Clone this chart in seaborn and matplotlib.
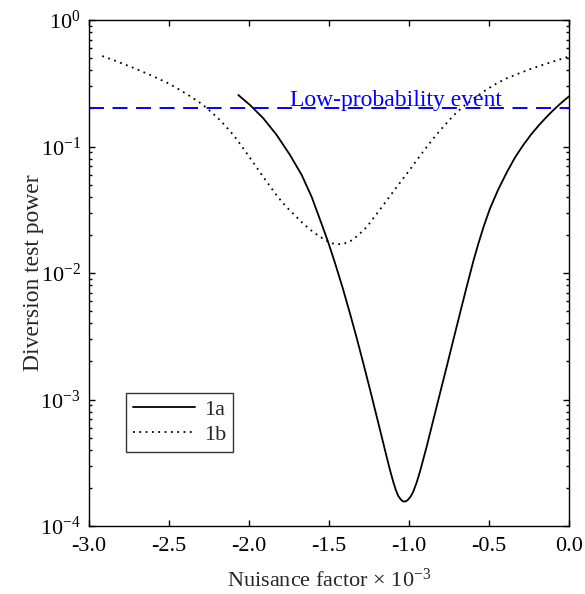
import numpy as np
import pandas as pd
import matplotlib
matplotlib.use("Agg")
import matplotlib.pyplot as plt
import matplotlib.ticker as mticker
import seaborn as sns

# Series 1a (solid): nuisance factor (x 10^-3) vs. diversion test power
x_1a = [-2.0669, -1.9938, -1.9106, -1.8269, -1.7438, -1.6706, -1.6081, -1.5563,
        -1.5044, -1.4625, -1.4144, -1.3688, -1.3269, -1.2875, -1.2438, -1.2019,
        -1.1625, -1.1394, -1.1188, -1.0981, -1.0813, -1.0669, -1.05, -1.0356,
        -1.0188, -1.0044, -0.9875, -0.9731, -0.9531, -0.9313, -0.8894, -0.8481,
        -0.8063, -0.7644, -0.7231, -0.6813, -0.6394, -0.5981, -0.5669, -0.5313,
        -0.4938, -0.4438, -0.3894, -0.3375, -0.2856, -0.2344, -0.1813, -0.1313,
        -0.0938, -0.0563, -0.025, 0.0]
p_1a = [0.2553, 0.2129, 0.1671, 0.1233, 0.08568, 0.05953, 0.03989, 0.02648,
        0.01742, 0.01200, 0.007612, 0.004784, 0.003063, 0.001978, 0.0012, 7.34e-4,
        4.613e-4, 3.511e-4, 2.771e-4, 2.227e-4, 1.908e-4, 1.727e-4, 1.611e-4, 1.562e-4,
        1.567e-4, 1.620e-4, 1.727e-4, 1.874e-4, 2.187e-4, 2.697e-4, 4.25e-4, 6.885e-4,
        0.001119, 0.001816, 0.002953, 0.004801, 0.007794, 0.01238, 0.01701, 0.02370,
        0.03235, 0.04530, 0.06228, 0.08186, 0.1028, 0.1256, 0.1506, 0.1758,
        0.1961, 0.2168, 0.2344, 0.2492]

# Series 1b (dotted)
x_1b = [-2.9169, -2.8438, -2.7706, -2.7081, -2.6356, -2.5731, -2.5044, -2.4419,
        -2.375, -2.3125, -2.2606, -2.1981, -2.15, -2.0981, -2.0519, -2.0044,
        -1.9563, -1.9106, -1.8656, -1.8169, -1.7656, -1.7125, -1.6656, -1.6188,
        -1.5719, -1.525, -1.4875, -1.4519, -1.4125, -1.3688, -1.3188, -1.2644,
        -1.2, -1.1294, -1.0625, -0.9938, -0.9438, -0.8894, -0.8375, -0.7856,
        -0.725, -0.6606, -0.5875, -0.5144, -0.4531, -0.3894, -0.3188, -0.2438,
        -0.1813, -0.1188, -0.0688, -0.0188, 0.0]
p_1b = [0.5192, 0.4801, 0.4423, 0.4114, 0.3762, 0.3467, 0.3159, 0.2848,
        0.2530, 0.2248, 0.1997, 0.1695, 0.1466, 0.1233, 0.1031, 0.0849,
        0.0695, 0.0574, 0.04785, 0.03952, 0.03323, 0.02848, 0.02485, 0.02207,
        0.01998, 0.01823, 0.01726, 0.01686, 0.01695, 0.01774, 0.01979, 0.02310,
        0.02954, 0.03895, 0.05053, 0.06580, 0.08036, 0.09908, 0.1200, 0.1434,
        0.1742, 0.2071, 0.2439, 0.2822, 0.3148, 0.3461, 0.3756, 0.4083,
        0.4346, 0.4604, 0.4830, 0.5052, 0.5146]

threshold = 0.2
threshold_label = "Low-probability event"
series_names = ["1a", "1b"]
x_ticks = [-3.0, -2.5, -2.0, -1.5, -1.0, -0.5, 0.0]
y_ticks = [1e-4, 1e-3, 1e-2, 1e-1, 1e0]
y_tick_labels = ["10$^{-4}$", "10$^{-3}$", "10$^{-2}$", "10$^{-1}$", "10$^{0}$"]

sns.set_theme(style="ticks")
plt.rcParams.update({
    "font.family": ["Liberation Serif", "DejaVu Serif"],
    "mathtext.fontset": "custom",
    "mathtext.rm": "Liberation Serif",
    "mathtext.it": "Liberation Serif:italic",
    "mathtext.default": "regular",
    "axes.unicode_minus": False,
})

df = pd.concat([
    pd.DataFrame({"x": x_1a, "p": p_1a, "series": series_names[0]}),
    pd.DataFrame({"x": x_1b, "p": p_1b, "series": series_names[1]}),
], ignore_index=True)

fig = plt.figure(figsize=(5.85, 5.94), dpi=100)
ax = fig.add_axes([89 / 585, 1 - 526 / 594, 480 / 585, 506 / 594])

sns.lineplot(data=df, x="x", y="p", style="series", estimator=None, sort=False,
             color="black", linewidth=1.3,
             dashes={"1a": "", "1b": (1, 2.5)}, ax=ax, legend=False)

# threshold line and its label
ax.axhline(threshold, color="blue", linewidth=1.4, dashes=(7.7, 4.4))
ax.annotate(threshold_label, xy=(-1.744, threshold), xytext=(0, 2),
            textcoords="offset points", color="blue", fontsize=17,
            ha="left", va="baseline")

ax.set_yscale("log")
ax.set_xlim(-3.0, 0.0)
ax.set_ylim(1e-4, 1e0)
ax.set_xticks(x_ticks)
ax.set_xticklabels([f"{v:.1f}" for v in x_ticks])
ax.set_yticks(y_ticks)
ax.set_yticklabels(y_tick_labels)
ax.xaxis.set_minor_locator(mticker.NullLocator())
ax.yaxis.set_minor_locator(mticker.LogLocator(base=10, subs=np.arange(2, 10)))
ax.yaxis.set_minor_formatter(mticker.NullFormatter())

ax.tick_params(axis="both", which="both", direction="in", top=True, right=True,
               colors="black", labelsize=16, width=1.0)
ax.tick_params(axis="both", which="major", length=4.5)
ax.tick_params(axis="y", which="minor", length=2.5)
ax.tick_params(axis="x", which="major", pad=8)
ax.tick_params(axis="y", which="major", pad=6)

for s in ax.spines.values():
    s.set_visible(True)
    s.set_linewidth(1.0)
    s.set_color("black")

ax.set_xlabel("Nuisance factor × 10$^{-3}$", fontsize=16, labelpad=9)
ax.set_ylabel("Diversion test power", fontsize=17)
ax.yaxis.set_label_coords(-0.093, 0.5)

handles = ax.get_lines()[:2]
leg = ax.legend(handles, series_names, loc="upper left",
                bbox_to_anchor=(37 / 480, 133 / 506), fontsize=16,
                frameon=True, fancybox=False, edgecolor="black",
                handlelength=2.8, handletextpad=0.4, labelspacing=0.2,
                borderpad=0.3, borderaxespad=0.0)
leg.get_frame().set_linewidth(1.0)

fig.savefig("out.png", dpi=100)
